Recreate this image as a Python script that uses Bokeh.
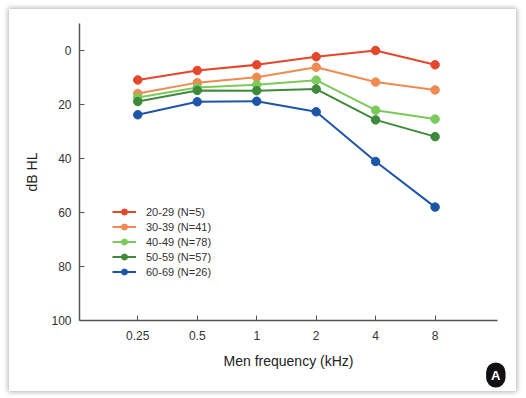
from bokeh.plotting import figure
from bokeh.models import Range1d, FixedTicker, Legend, LegendItem, Title
from bokeh.embed import file_html
from bokeh.resources import INLINE

freqs = [0.25, 0.5, 1, 2, 4, 8]
freq_labels = ["0.25", "0.5", "1", "2", "4", "8"]
groups = ["20-29 (N=5)", "30-39 (N=41)", "40-49 (N=78)", "50-59 (N=57)", "60-69 (N=26)"]
g20 = [10.9, 7.4, 5.3, 2.3, 0.0, 5.3]
g30 = [15.9, 11.9, 9.9, 6.2, 11.7, 14.6]
g40 = [17.4, 13.7, 12.7, 11.0, 22.1, 25.4]
g50 = [18.9, 14.8, 14.9, 14.3, 25.7, 31.9]
g60 = [23.8, 19.0, 18.8, 22.7, 41.1, 58.0]
series = [g20, g30, g40, g50, g60]
colors = ["#e4472a", "#f08a50", "#7cc95c", "#3e8a3a", "#1d56a8"]
y_ticks = [0, 20, 40, 60, 80, 100]

FONT = "Liberation Sans"

p = figure(width=507, height=382, output_backend="svg", toolbar_location=None,
           x_axis_type="log",
           x_range=Range1d(0.1267, 16.56), y_range=Range1d(100, -10),
           min_border_left=70, min_border_top=14, min_border_right=19, min_border_bottom=71,
           background_fill_color="white", border_fill_color="white",
           styles={"margin": "9px 0 0 9px", "box-shadow": "0 0 5px 1px rgba(0,0,0,0.30)"})
p.outline_line_color = None
p.xgrid.visible = False
p.ygrid.visible = False

items = []
for name, vals, c in zip(groups, series, colors):
    r1 = p.line(freqs, vals, line_color=c, line_width=2)
    r2 = p.scatter(freqs, vals, size=8.5, fill_color=c, line_color=c)
    items.append(LegendItem(label=name, renderers=[r1, r2]))

legend = Legend(items=items, location=(33, 41), glyph_width=24, glyph_height=15,
                label_height=15, spacing=0, padding=4, label_standoff=10,
                label_text_font=FONT, label_text_font_size="11px", label_text_color="#333333",
                border_line_color=None, background_fill_alpha=0)
p.add_layout(legend, "center")

for ax in (p.xaxis[0], p.yaxis[0]):
    ax.axis_line_color = "#555555"
    ax.axis_line_width = 1.5
    ax.major_tick_line_color = "#555555"
    ax.major_tick_in = 5
    ax.major_tick_out = 0
    ax.minor_tick_line_color = None
    ax.major_label_text_font = FONT
    ax.major_label_text_font_size = "12px"
    ax.major_label_text_color = "#333333"
    ax.axis_label_text_font = FONT
    ax.axis_label_text_font_style = "normal"
    ax.axis_label_text_color = "#222222"

p.xaxis.ticker = FixedTicker(ticks=freqs)
p.xaxis.major_label_overrides = {f: l for f, l in zip(freqs, freq_labels)}
p.xaxis.axis_label = "Men frequency (kHz)"
p.xaxis.axis_label_text_font_size = "14px"
p.xaxis.major_label_standoff = 10
p.xaxis.axis_label_standoff = 10

p.yaxis.ticker = FixedTicker(ticks=y_ticks)
p.yaxis.axis_label = "dB HL"
p.yaxis.axis_label_text_font_size = "14px"
p.yaxis.major_label_standoff = 8
p.yaxis.axis_label_standoff = 8

badge = Title(text="A", align="right", offset=-8, standoff=-22,
              text_font=FONT, text_font_style="bold", text_font_size="13px",
              text_color="white", background_fill_color="#111111",
              border_radius=12, padding=5)
p.add_layout(badge, "below")

open("out.html", "w").write(file_html(p, INLINE))
